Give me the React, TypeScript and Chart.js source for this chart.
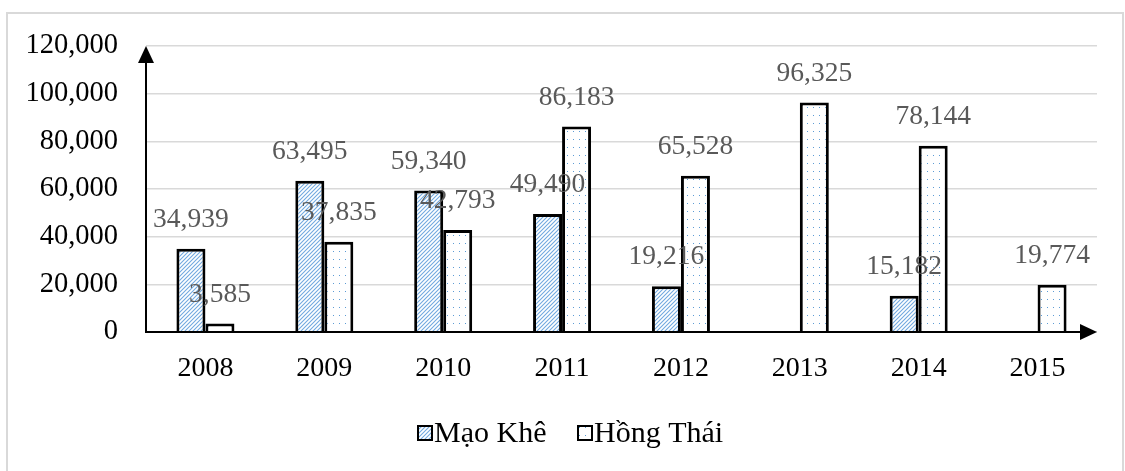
import React, { useEffect, useRef } from "react";
import { Chart, registerables } from "chart.js";

Chart.register(...registerables);

const categories = ["2008", "2009", "2010", "2011", "2012", "2013", "2014", "2015"];
const maoKhe: (number | null)[] = [34939, 63495, 59340, 49490, 19216, null, 15182, null];
const hongThai: (number | null)[] = [3585, 37835, 42793, 86183, 65528, 96325, 78144, 19774];
const seriesNames = ["Mạo Khê", "Hồng Thái"];
const yMin = 0;
const yMax = 120000;
const yStep = 20000;

const FONT = "'Liberation Serif', 'Times New Roman', serif";

function makeStripePattern(ctx: CanvasRenderingContext2D) {
  const c = document.createElement("canvas");
  c.width = 4;
  c.height = 4;
  const g = c.getContext("2d")!;
  const img = g.createImageData(4, 4);
  // "/" diagonal stripes, light blue on white
  for (let y = 0; y < 4; y++) {
    for (let x = 0; x < 4; x++) {
      const i = (y * 4 + x) * 4;
      const on = (x + y) % 4 === 3;
      const half = (x + y) % 4 === 2 || (x + y) % 4 === 0;
      if (on) {
        img.data[i] = 120; img.data[i + 1] = 172; img.data[i + 2] = 224;
      } else if (half) {
        img.data[i] = 214; img.data[i + 1] = 231; img.data[i + 2] = 247;
      } else {
        img.data[i] = 255; img.data[i + 1] = 255; img.data[i + 2] = 255;
      }
      img.data[i + 3] = 255;
    }
  }
  g.putImageData(img, 0, 0);
  return ctx.createPattern(c, "repeat")!;
}

function makeDotPattern(ctx: CanvasRenderingContext2D) {
  const c = document.createElement("canvas");
  c.width = 6;
  c.height = 8;
  const g = c.getContext("2d")!;
  g.fillStyle = "#ffffff";
  g.fillRect(0, 0, 6, 8);
  g.fillStyle = "#5b9bd5";
  g.fillRect(3, 3, 1, 1);
  return ctx.createPattern(c, "repeat")!;
}

export default function App() {
  const ref = useRef<HTMLCanvasElement | null>(null);

  useEffect(() => {
    const canvas = ref.current!;
    const ctx = canvas.getContext("2d")!;
    const stripe = makeStripePattern(ctx);
    const dots = makeDotPattern(ctx);
    const fills = [stripe, dots];

    const framePlugin = {
      id: "frame",
      beforeDraw(chart: any) {
        const c = chart.ctx;
        c.save();
        c.fillStyle = "#ffffff";
        c.fillRect(0, 0, chart.width, chart.height);
        c.strokeStyle = "#d9d9d9";
        c.lineWidth = 2;
        c.strokeRect(7, 13, 1116, 480);
        c.restore();
      },
    };

    const overlayPlugin = {
      id: "overlay",
      afterDatasetsDraw(chart: any) {
        const c = chart.ctx;
        const ca = chart.chartArea;
        c.save();
        // axes with arrows
        c.strokeStyle = "#000";
        c.fillStyle = "#000";
        c.lineWidth = 2;
        c.beginPath();
        c.moveTo(ca.left, ca.bottom);
        c.lineTo(ca.left, ca.top + 14);
        c.moveTo(ca.left - 1, ca.bottom);
        c.lineTo(ca.right - 14, ca.bottom);
        c.stroke();
        c.beginPath();
        c.moveTo(ca.left, ca.top);
        c.lineTo(ca.left - 8, ca.top + 17);
        c.lineTo(ca.left + 8, ca.top + 17);
        c.closePath();
        c.fill();
        c.beginPath();
        c.moveTo(ca.right, ca.bottom);
        c.lineTo(ca.right - 17, ca.bottom - 8);
        c.lineTo(ca.right - 17, ca.bottom + 8);
        c.closePath();
        c.fill();

        // data labels
        c.font = `27.5px ${FONT}`;
        c.fillStyle = "#595959";
        c.textAlign = "center";
        c.textBaseline = "middle";
        chart.data.datasets.forEach((ds: any, i: number) => {
          const meta = chart.getDatasetMeta(i);
          meta.data.forEach((el: any, j: number) => {
            const v = ds.data[j];
            if (v == null) return;
            c.fillText(Number(v).toLocaleString("en-US"), el.x, el.y - 29);
          });
        });

        // legend
        const items = [
          { x: 417, label: seriesNames[0], fill: fills[0] },
          { x: 577, label: seriesNames[1], fill: fills[1] },
        ];
        const ly = 433;
        items.forEach((it) => {
          c.fillStyle = it.fill;
          c.fillRect(it.x, ly - 8, 16, 16);
          c.strokeStyle = "#000";
          c.lineWidth = 2;
          c.strokeRect(it.x + 1, ly - 7, 14, 14);
          c.fillStyle = "#000";
          c.textAlign = "left";
          c.textBaseline = "middle";
          c.font = `30px ${FONT}`;
          c.fillText(it.label, it.x + 17, ly + 1);
        });
        c.restore();
      },
    };

    const chart = new Chart(canvas, {
      type: "bar",
      data: {
        labels: categories,
        datasets: [
          {
            label: seriesNames[0],
            data: maoKhe,
            backgroundColor: stripe,
            borderColor: "#000",
            borderWidth: 3,
          },
          {
            label: seriesNames[1],
            data: hongThai,
            backgroundColor: dots,
            borderColor: "#000",
            borderWidth: 3,
          },
        ],
      },
      options: {
        animation: false,
        responsive: false,
        maintainAspectRatio: false,
        datasets: {
          bar: {
            categoryPercentage: 0.488,
            barPercentage: 1,
            borderSkipped: "start",
          },
        },
        layout: { padding: { top: 46, right: 28, left: 0, bottom: 0 } },
        plugins: {
          legend: { display: false },
          tooltip: { enabled: false },
          title: { display: false },
        },
        scales: {
          x: {
            grid: { display: false, drawTicks: false },
            border: { display: false },
            ticks: {
              color: "#000",
              font: { family: FONT, size: 28 },
              padding: 20,
              maxRotation: 0,
            },
            afterFit(s: any) {
              s.height = 139;
            },
          },
          y: {
            min: yMin,
            max: yMax,
            grid: { color: "#d9d9d9", lineWidth: 1.5, drawTicks: false },
            border: { display: false },
            ticks: {
              stepSize: yStep,
              color: "#000",
              font: { family: FONT, size: 28.5 },
              padding: 28,
              callback: (v: any) => Number(v).toLocaleString("en-US"),
            },
            afterFit(s: any) {
              s.width = 146;
            },
          },
        },
      },
      plugins: [framePlugin, overlayPlugin],
    } as any);

    return () => chart.destroy();
  }, []);

  return (
    <div style={{ position: "absolute", left: 0, top: 0, width: 1125, height: 471 }}>
      <canvas ref={ref} width={1125} height={471} style={{ display: "block" }} />
    </div>
  );
}
